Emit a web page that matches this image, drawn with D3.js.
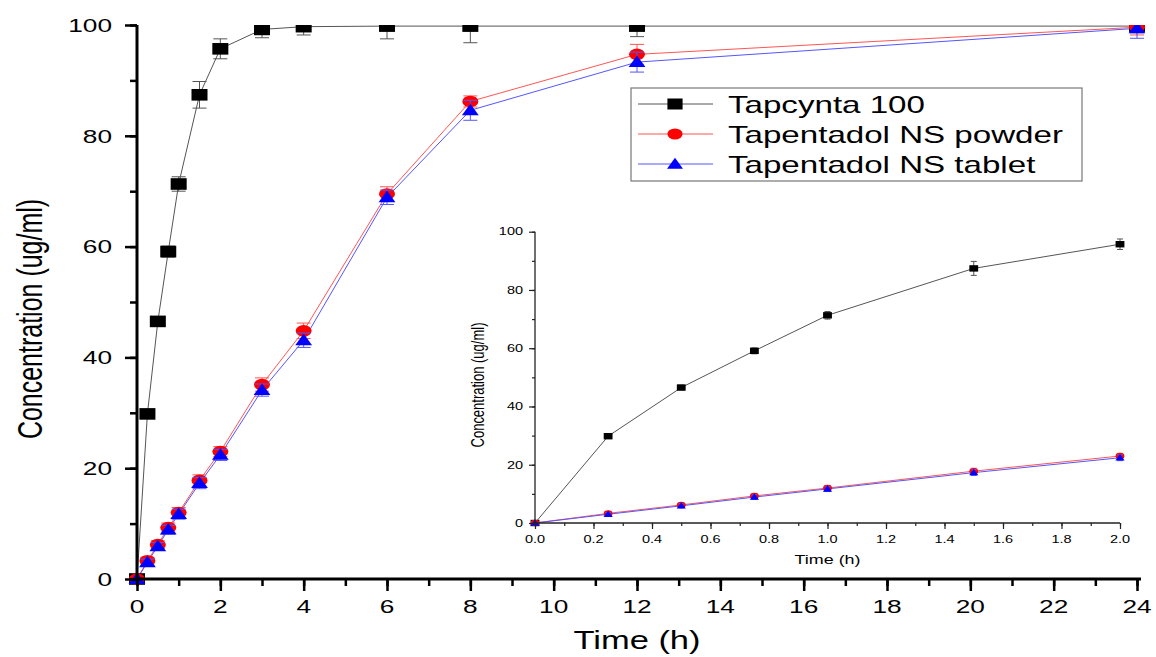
<!DOCTYPE html>
<html>
<head>
<meta charset="utf-8">
<script src="https://cdn.jsdelivr.net/npm/d3@7"></script>
<style>
  body { margin: 0; background: #fff; }
  text { font-family: "Liberation Sans", Arial, sans-serif; fill: #000; }
</style>
</head>
<body>
<script>
// sampling times (h)
const time = [0, 0.25, 0.5, 0.75, 1, 1.5, 2, 3, 4, 6, 8, 12, 24]
// concentration (ug/ml) and error
const tapcynta = [0, 29.8, 46.5, 59.1, 71.3, 87.4, 95.7, 99.2, 99.7, 99.8, 99.8, 99.8, 99.8]
const tapcyntaErr = [0, 0.8, 0.8, 1.0, 1.3, 2.4, 1.8, 1.5, 1.5, 2.3, 3.0, 1.9, 1.2]
const powder = [0, 3.3, 6.2, 9.3, 12.0, 17.8, 23.0, 35.1, 44.8, 69.5, 86.2, 94.7, 99.6]
const powderErr = [0, 0.6, 0.7, 0.8, 0.9, 1.0, 0.9, 1.2, 1.4, 1.3, 1.0, 1.8, 1.4]
const tablet = [0, 3.0, 5.9, 8.9, 11.7, 17.3, 22.4, 34.1, 43.1, 68.9, 84.6, 93.3, 99.4]
const tabletErr = [0, 0.6, 0.7, 0.8, 0.9, 1.0, 1.0, 1.1, 1.3, 1.3, 1.8, 1.8, 1.8]

const seriesNames = ['Tapcynta 100', 'Tapentadol NS powder', 'Tapentadol NS tablet']
const xTicksMain = d3.range(0, 25, 2)
const yTicksMain = d3.range(0, 101, 20)
const xTicksInset = d3.range(0, 2.01, 0.2)
const yTicksInset = d3.range(0, 101, 20)

const width = 1156, height = 657
const stretch = 1.38 // the picture is wider than tall, text too

const series = [
  { name: seriesNames[0], y: tapcynta, err: tapcyntaErr, color: '#000', line: '#555', shape: 'square' },
  { name: seriesNames[1], y: powder, err: powderErr, color: '#f00', line: '#f55', shape: 'circle' },
  { name: seriesNames[2], y: tablet, err: tabletErr, color: '#00f', line: '#55f', shape: 'triangle' },
]

const svg = d3.select('body').append('svg')
  .attr('width', width).attr('height', height)

function marker(g, shape, color, s) {
  // s = half height, width is stretched
  const w = s * stretch
  if (shape === 'square') {
    g.append('rect').attr('x', -w).attr('y', -s).attr('width', 2 * w).attr('height', 2 * s).attr('fill', color)
  } else if (shape === 'circle') {
    g.append('ellipse').attr('rx', w).attr('ry', s).attr('fill', color)
  } else {
    g.append('path').attr('d', `M0,${-s * 1.15}L${w * 1.05},${s * 0.85}L${-w * 1.05},${s * 0.85}Z`).attr('fill', color)
  }
}

function drawPlot(opt) {
  const x = d3.scaleLinear().domain(opt.xDomain).range([opt.left, opt.right])
  const y = d3.scaleLinear().domain([0, 100]).range([opt.bottom, opt.top])
  const g = svg.append('g')
  const clipId = 'clip' + opt.id
  svg.append('clipPath').attr('id', clipId).append('rect')
    .attr('x', opt.left - 20).attr('y', opt.top)
    .attr('width', opt.right - opt.left + 40).attr('height', opt.bottom - opt.top + 20)
  const plot = g.append('g').attr('clip-path', `url(#${clipId})`)

  const idx = time.map((t, i) => i).filter((i) => time[i] <= opt.xDomain[1])

  series.forEach((s) => {
    const line = d3.line().x((i) => x(time[i])).y((i) => y(s.y[i]))
    plot.append('path').datum(idx)
      .attr('d', line).attr('fill', 'none')
      .attr('stroke', s.line).attr('stroke-width', opt.lineW)
  })

  series.forEach((s) => {
    const eb = plot.append('g').attr('stroke', s.line).attr('stroke-width', 1)
    idx.forEach((i) => {
      if (!s.err[i]) return
      const cx = x(time[i])
      const y0 = y(s.y[i] - s.err[i]), y1 = y(s.y[i] + s.err[i])
      eb.append('line').attr('x1', cx).attr('x2', cx).attr('y1', y0).attr('y2', y1)
      eb.append('line').attr('x1', cx - opt.cap).attr('x2', cx + opt.cap).attr('y1', y0).attr('y2', y0)
      eb.append('line').attr('x1', cx - opt.cap).attr('x2', cx + opt.cap).attr('y1', y1).attr('y2', y1)
    })
    idx.forEach((i) => {
      const m = plot.append('g').attr('transform', `translate(${x(time[i])},${y(s.y[i])})`)
      marker(m, s.shape, s.color, opt.markS)
    })
  })

  // axes
  g.append('g').attr('transform', `translate(0,${opt.bottom})`)
    .call(d3.axisBottom(x).tickValues(opt.xMinor).tickSize(opt.minorTick).tickFormat(''))
  g.append('g').attr('transform', `translate(0,${opt.bottom})`)
    .call(d3.axisBottom(x).tickValues(opt.xTicks).tickSize(opt.majorTick).tickFormat(''))
  g.append('g').attr('transform', `translate(${opt.left},0)`)
    .call(d3.axisLeft(y).tickValues(opt.yMinor).tickSize(opt.minorTick).tickFormat(''))
  g.append('g').attr('transform', `translate(${opt.left},0)`)
    .call(d3.axisLeft(y).tickValues(opt.yTicks).tickSize(opt.majorTick).tickFormat(''))
  g.selectAll('.domain').remove()
  g.selectAll('.tick line').attr('stroke', opt.axisColor).attr('stroke-width', opt.tickW)

  g.append('line').attr('x1', opt.left).attr('x2', opt.right + opt.xOver)
    .attr('y1', opt.bottom).attr('y2', opt.bottom)
    .attr('stroke', opt.axisColor).attr('stroke-width', opt.axisW)
  g.append('line').attr('x1', opt.left).attr('x2', opt.left)
    .attr('y1', opt.bottom + opt.axisW / 2).attr('y2', opt.top)
    .attr('stroke', opt.axisColor).attr('stroke-width', opt.axisW)

  // tick labels
  g.selectAll(null).data(opt.xTicks).enter().append('text')
    .attr('transform', (d) => `translate(${x(d)},${opt.bottom + opt.xLabOff}) scale(${stretch},1)`)
    .attr('text-anchor', 'middle').attr('font-size', opt.tickFont)
    .text(opt.xFmt)
  g.selectAll(null).data(opt.yTicks).enter().append('text')
    .attr('transform', (d) => `translate(${opt.left - opt.yLabOff},${y(d)}) scale(${stretch},1)`)
    .attr('text-anchor', 'end').attr('dy', '0.36em').attr('font-size', opt.tickFont)
    .text((d) => d)

  // titles
  g.append('text')
    .attr('transform', `translate(${(opt.left + opt.right) / 2},${opt.xTitleY}) scale(${stretch},1)`)
    .attr('text-anchor', 'middle').attr('font-size', opt.titleFont)
    .text('Time (h)')
  g.append('text')
    .attr('transform', `translate(${opt.yTitleX},${opt.yTitleY}) scale(${stretch},1) rotate(-90)`)
    .attr('text-anchor', 'middle').attr('font-size', opt.titleFont)
    .text('Concentration (ug/ml)')
}

// main chart
drawPlot({
  id: 'main', xDomain: [0, 24], left: 137, right: 1137, top: 25, bottom: 579,
  xTicks: xTicksMain, yTicks: yTicksMain, xMinor: d3.range(0, 25, 1), yMinor: d3.range(0, 101, 10),
  majorTick: 12, minorTick: 7, tickW: 2.5, axisW: 3, axisColor: '#000', xOver: 4,
  lineW: 1, cap: 7, markS: 5.8,
  tickFont: 19, xLabOff: 34, yLabOff: 25, xFmt: (d) => d,
  titleFont: 25, xTitleY: 649, yTitleX: 42, yTitleY: 319,
})

// inset chart (first two hours)
drawPlot({
  id: 'inset', xDomain: [0, 2], left: 535, right: 1120, top: 231.7, bottom: 523,
  xTicks: xTicksInset, yTicks: yTicksInset, xMinor: d3.range(0, 2.01, 0.1), yMinor: d3.range(0, 101, 10),
  majorTick: 6, minorTick: 3, tickW: 1.2, axisW: 1.3, axisColor: '#222', xOver: 0,
  lineW: 1, cap: 3, markS: 3.2,
  tickFont: 10.5, xLabOff: 20, yLabOff: 12, xFmt: d3.format('.1f'),
  titleFont: 13, xTitleY: 564, yTitleX: 484, yTitleY: 385,
})

// legend
const legend = svg.append('g')
legend.append('rect').attr('x', 631).attr('y', 88).attr('width', 451).attr('height', 93)
  .attr('fill', '#fff').attr('stroke', '#777').attr('stroke-width', 1.2)
series.forEach((s, i) => {
  const cy = 104 + i * 30
  legend.append('line').attr('x1', 638).attr('x2', 713).attr('y1', cy).attr('y2', cy)
    .attr('stroke', s.line).attr('stroke-width', 1)
  const m = legend.append('g').attr('transform', `translate(675,${cy})`)
  marker(m, s.shape, s.color, 5.5)
  legend.append('text')
    .attr('transform', `translate(728,${cy + 9}) scale(${stretch},1)`)
    .attr('font-size', 24).text(s.name)
})
</script>
</body>
</html>
